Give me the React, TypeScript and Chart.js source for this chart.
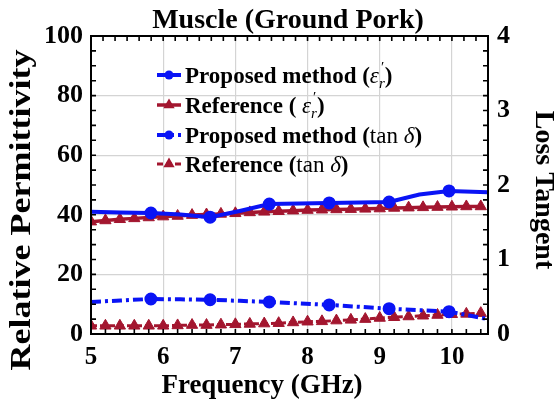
import React, { useEffect, useRef } from "react";
import { Chart, registerables } from "chart.js";

Chart.register(...registerables);

// ---- data ----
const freqRef = [5.0, 5.2, 5.4, 5.6, 5.8, 6.0, 6.2, 6.4, 6.6, 6.8, 7.0, 7.2, 7.4, 7.6, 7.8, 8.0, 8.2, 8.4, 8.6, 8.8, 9.0, 9.2, 9.4, 9.6, 9.8, 10.0, 10.2, 10.4];
const refEps = [37.7, 38.1, 38.5, 38.8, 39.1, 39.4, 39.6, 39.9, 40.1, 40.3, 40.5, 40.8, 41.0, 41.2, 41.4, 41.6, 41.7, 41.8, 41.9, 42.0, 42.1, 42.3, 42.4, 42.5, 42.6, 42.7, 42.8, 42.8];
const refTan = [0.11, 0.11, 0.11, 0.11, 0.11, 0.11, 0.115, 0.12, 0.12, 0.125, 0.13, 0.135, 0.14, 0.145, 0.155, 0.165, 0.17, 0.18, 0.19, 0.2, 0.215, 0.225, 0.235, 0.245, 0.255, 0.265, 0.27, 0.28];

const freqProp = [5.0, 5.41, 5.83, 6.24, 6.65, 7.06, 7.47, 7.89, 8.3, 8.72, 9.13, 9.55, 9.96, 10.5];
const propEps = [41.0, 40.8, 40.6, 40.1, 39.2, 41.3, 43.6, 43.8, 44.0, 44.1, 44.3, 46.8, 48.0, 47.6];
const propTan = [0.43, 0.45, 0.47, 0.465, 0.46, 0.445, 0.43, 0.41, 0.39, 0.365, 0.34, 0.32, 0.3, 0.2];
const propMarker = [0, 0, 1, 0, 1, 0, 1, 0, 1, 0, 1, 0, 1, 0];

const xTicks = [5, 6, 7, 8, 9, 10];
const leftTicks = [0, 20, 40, 60, 80, 100];
const rightTicks = [0, 1, 2, 3, 4];

const titleText = "Muscle (Ground Pork)";
const xTitle = "Frequency (GHz)";
const yLeftTitle = "Relative Permittivity";
const yRightTitle = "Loss Tangent";

const labelProposed = "Proposed method (";
const labelReferenceEps = "Reference ( ";
const labelReferenceTan = "Reference (";
const symEps = "ε";
const symPrime = "′";
const symSubR = "r";
const symTan = "tan ";
const symDelta = "δ";
const closeParen = ")";

const BLUE = "#0a14f5";
const RED = "#a3162f";
const FONT = "'Liberation Serif', 'Times New Roman', serif";

type Part = { t: string; f: string; dy?: number; dx?: number; adv?: boolean };

const epsParts = (): Part[] => [
  { t: symEps, f: `italic 23px ${FONT}` },
  { t: symPrime, f: `15px ${FONT}`, dy: -11, dx: 2, adv: false },
  { t: symSubR, f: `italic 15px ${FONT}`, dy: 5 },
];
const tanParts = (): Part[] => [
  { t: symTan, f: `23px ${FONT}` },
  { t: symDelta, f: `italic 23px ${FONT}` },
];

const legendEntries = [
  { ds: 0, parts: [{ t: labelProposed, f: `bold 23px ${FONT}` }, ...epsParts(), { t: closeParen, f: `bold 23px ${FONT}` }] },
  { ds: 1, parts: [{ t: labelReferenceEps, f: `bold 23px ${FONT}` }, ...epsParts(), { t: closeParen, f: `bold 23px ${FONT}` }] },
  { ds: 2, parts: [{ t: labelProposed, f: `bold 23px ${FONT}` }, ...tanParts(), { t: closeParen, f: `bold 23px ${FONT}` }] },
  { ds: 3, parts: [{ t: labelReferenceTan, f: `bold 23px ${FONT}` }, ...tanParts(), { t: closeParen, f: `bold 23px ${FONT}` }] },
];

const decorPlugin = {
  id: "decor",
  afterDraw(chart: any) {
    const ctx = chart.ctx as CanvasRenderingContext2D;
    const { left, right, top, bottom } = chart.chartArea;
    const xs = chart.scales.x;
    const yl = chart.scales.y;
    const yr = chart.scales.y2;
    ctx.save();
    // frame
    ctx.strokeStyle = "#000";
    ctx.lineWidth = 2;
    ctx.strokeRect(left, top, right - left, bottom - top);
    // ticks (inward)
    ctx.lineWidth = 1.6;
    const tl = 5;
    ctx.beginPath();
    for (let i = 0; i <= 27; i++) {
      const v = 5 + i * 0.2;
      const px = xs.getPixelForValue(v);
      if (px > right - 1) continue;
      ctx.moveTo(px, bottom);
      ctx.lineTo(px, bottom - tl);
    }
    for (let i = 0; i <= 33; i++) {
      const v = 5 + i / 6;
      const px = xs.getPixelForValue(v);
      if (px > right - 1) continue;
      ctx.moveTo(px, top);
      ctx.lineTo(px, top + tl);
    }
    for (let v = 0; v <= 100; v += 5) {
      const py = yl.getPixelForValue(v);
      ctx.moveTo(left, py);
      ctx.lineTo(left + tl, py);
    }
    for (let i = 0; i <= 20; i++) {
      const py = yr.getPixelForValue(i * 0.2);
      ctx.moveTo(right, py);
      ctx.lineTo(right - tl, py);
    }
    ctx.stroke();

    // titles
    ctx.fillStyle = "#000";
    ctx.textAlign = "center";
    ctx.textBaseline = "alphabetic";
    ctx.font = `bold 28px ${FONT}`;
    ctx.fillText(titleText, 288, 28);
    ctx.font = `bold 27px ${FONT}`;
    ctx.fillText(xTitle, 262, 393);

    ctx.textBaseline = "middle";
    ctx.save();
    ctx.translate(22, 210);
    ctx.rotate(-Math.PI / 2);
    ctx.scale(1.2, 1);
    ctx.font = `bold 30px ${FONT}`;
    ctx.fillText(yLeftTitle, 0, 0);
    ctx.restore();

    ctx.save();
    ctx.translate(543, 190);
    ctx.rotate(Math.PI / 2);
    ctx.font = `bold 28px ${FONT}`;
    ctx.fillText(yRightTitle, 0, 0);
    ctx.restore();

    // legend
    const rowBase = [83, 113, 143, 172];
    legendEntries.forEach((entry, i) => {
      const ds = chart.data.datasets[entry.ds];
      const yb = rowBase[i];
      const yc = yb - 8;
      ctx.save();
      ctx.strokeStyle = ds.borderColor;
      ctx.lineWidth = ds.borderWidth;
      ctx.setLineDash(ds.borderDash || []);
      ctx.beginPath();
      ctx.moveTo(157, yc);
      ctx.lineTo(181, yc);
      ctx.stroke();
      ctx.setLineDash([]);
      ctx.fillStyle = ds.borderColor;
      const style = ds.pointStyle;
      const r = style === "triangle" ? 6.5 : 4.5;
      ctx.beginPath();
      if (style === "triangle") {
        ctx.moveTo(169, yc - r);
        ctx.lineTo(169 + r * Math.sin(Math.PI / 3), yc + r / 2);
        ctx.lineTo(169 - r * Math.sin(Math.PI / 3), yc + r / 2);
        ctx.closePath();
      } else {
        ctx.arc(169, yc, r, 0, Math.PI * 2);
      }
      ctx.fill();
      ctx.restore();

      ctx.fillStyle = "#000";
      ctx.textAlign = "left";
      ctx.textBaseline = "alphabetic";
      let x = 185;
      for (const p of entry.parts as Part[]) {
        ctx.font = p.f;
        ctx.fillText(p.t, x + (p.dx || 0), yb + (p.dy || 0));
        if (p.adv !== false) x += ctx.measureText(p.t).width;
      }
    });
    ctx.restore();
  },
};

export default function App() {
  const ref = useRef<HTMLCanvasElement | null>(null);
  useEffect(() => {
    if (!ref.current) return;
    const pts = (xs: number[], ys: number[]) => xs.map((x, i) => ({ x, y: ys[i] }));
    const chart = new Chart(ref.current, {
      type: "line",
      data: {
        datasets: [
          {
            label: "Proposed method (ε′r)",
            data: pts(freqProp, propEps),
            borderColor: BLUE,
            backgroundColor: BLUE,
            borderWidth: 4,
            pointStyle: "circle",
            pointRadius: propMarker.map((m) => (m ? 4.5 : 0)),
            pointBackgroundColor: BLUE,
            pointBorderColor: BLUE,
            yAxisID: "y",
          } as any,
          {
            label: "Reference (ε′r)",
            data: pts(freqRef, refEps),
            borderColor: RED,
            backgroundColor: RED,
            borderWidth: 3.5,
            pointStyle: "triangle",
            pointRadius: 6.5,
            pointBackgroundColor: RED,
            pointBorderColor: RED,
            pointBorderWidth: 1,
            yAxisID: "y",
          } as any,
          {
            label: "Proposed method (tan δ)",
            data: pts(freqProp, propTan),
            borderColor: BLUE,
            backgroundColor: BLUE,
            borderWidth: 4,
            borderDash: [10, 4, 3, 4],
            pointStyle: "circle",
            pointRadius: propMarker.map((m) => (m ? 4.5 : 0)),
            pointBackgroundColor: BLUE,
            pointBorderColor: BLUE,
            yAxisID: "y2",
          } as any,
          {
            label: "Reference (tan δ)",
            data: pts(freqRef, refTan),
            borderColor: RED,
            backgroundColor: RED,
            borderWidth: 3,
            borderDash: [6, 3],
            pointStyle: "triangle",
            pointRadius: 6.5,
            pointBackgroundColor: RED,
            pointBorderColor: RED,
            pointBorderWidth: 1,
            yAxisID: "y2",
          } as any,
        ],
      },
      options: {
        animation: false,
        responsive: false,
        devicePixelRatio: 1,
        layout: { padding: { top: 36, left: 0, right: 0, bottom: 0 } },
        plugins: { legend: { display: false }, title: { display: false }, tooltip: { enabled: false } },
        elements: { line: { tension: 0 } },
        scales: {
          x: {
            type: "linear",
            min: 5,
            max: 10.5,
            afterBuildTicks: (s: any) => {
              s.ticks = xTicks.map((v) => ({ value: v }));
            },
            afterFit: (s: any) => {
              s.height = 72;
            },
            grid: { color: "#d4d4d4", lineWidth: 1.2, drawTicks: false },
            border: { color: "#000", width: 2 },
            ticks: {
              color: "#000",
              padding: 9,
              maxRotation: 0,
              font: { family: FONT, weight: "bold", size: 25 },
              callback: (v: any) => String(v),
            },
          },
          y: {
            type: "linear",
            position: "left",
            min: 0,
            max: 100,
            afterBuildTicks: (s: any) => {
              s.ticks = leftTicks.map((v) => ({ value: v }));
            },
            afterFit: (s: any) => {
              s.width = 91;
            },
            grid: { color: "#d4d4d4", lineWidth: 1.2, drawTicks: false },
            border: { color: "#000", width: 2 },
            ticks: {
              color: "#000",
              padding: 8,
              font: { family: FONT, weight: "bold", size: 26 },
              callback: (v: any) => String(v),
            },
          },
          y2: {
            type: "linear",
            position: "right",
            min: 0,
            max: 4,
            afterBuildTicks: (s: any) => {
              s.ticks = rightTicks.map((v) => ({ value: v }));
            },
            afterFit: (s: any) => {
              s.width = 67;
            },
            grid: { drawOnChartArea: false, drawTicks: false },
            border: { color: "#000", width: 2 },
            ticks: {
              color: "#000",
              padding: 9,
              font: { family: FONT, weight: "bold", size: 26 },
              callback: (v: any) => String(v),
            },
          },
        },
      } as any,
      plugins: [decorPlugin],
    });
    return () => chart.destroy();
  }, []);
  return (
    <div style={{ position: "absolute", left: 0, top: 0, width: 555, height: 406, background: "#fff" }}>
      <canvas ref={ref} width={555} height={406} />
    </div>
  );
}
